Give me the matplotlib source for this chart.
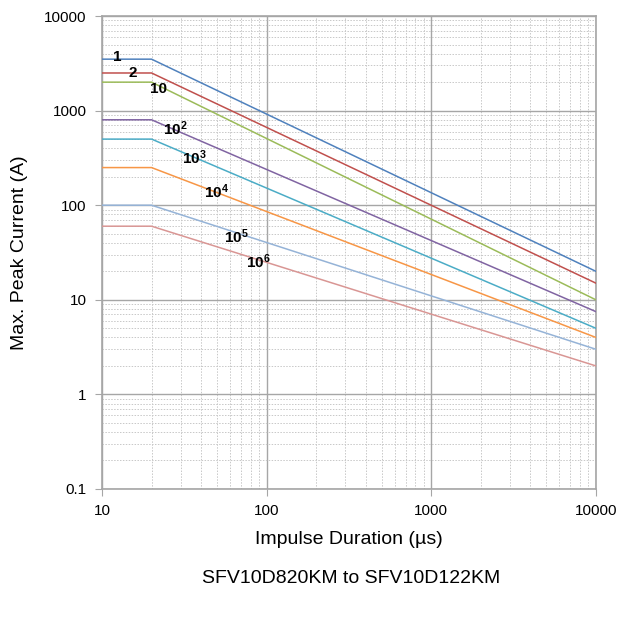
import numpy as np
import matplotlib
matplotlib.use("Agg")
import matplotlib.pyplot as plt
from matplotlib.ticker import LogLocator, FixedLocator, NullFormatter

plt.rcParams['font.family'] = ['Liberation Sans', 'DejaVu Sans']
plt.rcParams['mathtext.fontset'] = 'custom'
plt.rcParams['mathtext.bf'] = 'Liberation Sans:bold'
plt.rcParams['mathtext.rm'] = 'Liberation Sans'

# ── Data ──────────────────────────────────────────────────
durations = [10, 20, 10000]           # µs: flat until 20 µs, then power law
curve_names = ['1', '2', '10', r'$\mathbf{10^{2}}$', r'$\mathbf{10^{3}}$',
               r'$\mathbf{10^{4}}$', r'$\mathbf{10^{5}}$', r'$\mathbf{10^{6}}$']
peak_current = [3500, 2500, 2000, 800, 500, 250, 100, 60]   # A, flat part
end_current = [20, 15, 10, 7.5, 5, 4, 3, 2]                  # A at 10000 µs
label_x = [12.3, 15.4, 22.0, 27.8, 36.5, 49.5, 65.5, 88.5]
label_y = [3700, 2500, 1700, 650, 320, 140, 47, 25]
colors = ['#4F81BD', '#C0504D', '#9BBB59', '#8064A2', '#4BACC6',
          '#F79646', '#95B3D7', '#D99694']

fig = plt.figure(figsize=(6.22, 6.17), dpi=100)
ax = fig.add_axes([0.164, 0.2075, 0.794, 0.7665])

for name, ip, ie, lx, ly, c in zip(curve_names, peak_current, end_current,
                                   label_x, label_y, colors):
    ax.plot(durations, [ip, ip, ie], color=c, linewidth=1.1, zorder=3)
    ax.text(lx, ly, name, fontsize=11, fontweight='bold',
            ha='center', va='center', zorder=4)

ax.set_xscale('log')
ax.set_yscale('log')
ax.set_xlim(10, 10000)
ax.set_ylim(0.1, 10000)

ax.xaxis.set_major_locator(FixedLocator([10, 100, 1000, 10000]))
ax.yaxis.set_major_locator(FixedLocator([0.1, 1, 10, 100, 1000, 10000]))
ax.set_xticklabels(['10', '100', '1000', '10000'])
ax.set_yticklabels(['0.1', '1', '10', '100', '1000', '10000'])
ax.xaxis.set_minor_locator(LogLocator(base=10, subs=np.arange(2, 10)))
ax.yaxis.set_minor_locator(LogLocator(base=10, subs=np.arange(2, 10)))
ax.xaxis.set_minor_formatter(NullFormatter())
ax.yaxis.set_minor_formatter(NullFormatter())

ax.grid(True, which='major', color='#A6A6A6', linewidth=1.0, zorder=1)
ax.grid(True, which='minor', color='#C8C8C8', linewidth=0.7,
        linestyle=(0, (1.5, 1.5)), zorder=1)
ax.tick_params(which='major', direction='out', length=5, color='#A6A6A6',
               labelsize=11, pad=6)
ax.tick_params(which='minor', length=0)
for s in ax.spines.values():
    s.set_color('#A6A6A6')
    s.set_linewidth(1.2)

ax.set_ylabel('Max. Peak Current (A)', fontsize=14, labelpad=12)
ax.set_xlabel('Impulse Duration (µs)', fontsize=14, labelpad=9)
fig.text(0.565, 0.063, 'SFV10D820KM to SFV10D122KM', fontsize=14,
         ha='center', va='center')

fig.savefig('out.png', dpi=100)
